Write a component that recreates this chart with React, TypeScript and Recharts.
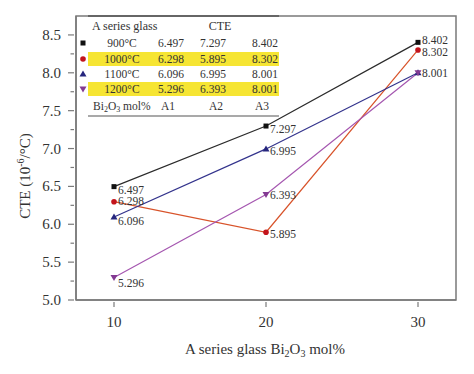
import { LineChart, Line, XAxis, YAxis, ReferenceArea, LabelList } from 'recharts';

const bi2o3 = [10, 20, 30];
const samples = ['A1', 'A2', 'A3'];
const temps = ['900°C', '1000°C', '1100°C', '1200°C'];
const cte900 = [6.497, 7.297, 8.402];
const cte1000 = [6.298, 5.895, 8.302];
const cte1100 = [6.096, 6.995, 8.001];
const cte1200 = [5.296, 6.393, 8.001];
const yTicks = [5, 5.25, 5.5, 5.75, 6, 6.25, 6.5, 6.75, 7, 7.25, 7.5, 7.75, 8, 8.25, 8.5];
const xTicks = [10, 20, 30];

const data = bi2o3.map((x, i) => ({
    x,
    t900: cte900[i],
    t1000: cte1000[i],
    t1100: cte1100[i],
    t1200: cte1200[i],
}));

const FONT = '"Liberation Serif", "DejaVu Serif", serif';
const AXIS = '#7a7a7a';

const series = [
    { key: 't900', values: cte900, line: '#2b2b2b', mark: '#111', shape: 'square', dy: [3, 3, -2] },
    { key: 't1000', values: cte1000, line: '#d8532a', mark: '#c3141c', shape: 'circle', dy: [-1, 2, 2] },
    { key: 't1100', values: cte1100, line: '#33338c', mark: '#26267e', shape: 'up', dy: [4, 2, 0] },
    { key: 't1200', values: cte1200, line: '#a557b0', mark: '#833a92', shape: 'down', dy: [5, 0, null] },
];

function Marker({ cx, cy, shape, color }: any) {
    if (cx == null || cy == null) return null;
    if (shape === 'square') return <rect x={cx - 2.5} y={cy - 2.5} width={5} height={5} fill={color} />;
    if (shape === 'circle') return <circle cx={cx} cy={cy} r={2.8} fill={color} />;
    if (shape === 'up') return <polygon points={`${cx},${cy - 3.5} ${cx - 3.5},${cy + 2.5} ${cx + 3.5},${cy + 2.5}`} fill={color} />;
    return <polygon points={`${cx},${cy + 3.5} ${cx - 3.5},${cy - 2.5} ${cx + 3.5},${cy - 2.5}`} fill={color} />;
}

function YTick({ x, y, payload }: any) {
    const major = Math.abs(payload.value * 2 - Math.round(payload.value * 2)) < 1e-6;
    return (
        <g>
            <line x1={x + 6 - (major ? 6 : 3.5)} x2={x + 6} y1={y} y2={y} stroke={AXIS} strokeWidth={1.2} />
            {major && (
                <text x={x - 7} y={y} textAnchor="end" dominantBaseline="central" fontSize={15} fill="#333" fontFamily={FONT}>
                    {payload.value.toFixed(1)}
                </text>
            )}
        </g>
    );
}

function XTick({ x, y, payload }: any) {
    return (
        <g>
            <line x1={x} x2={x} y1={y - 6} y2={y - 1} stroke={AXIS} strokeWidth={1.2} />
            <text x={x} y={y + 14} textAnchor="middle" dominantBaseline="central" fontSize={15} fill="#333" fontFamily={FONT}>
                {payload.value}
            </text>
        </g>
    );
}

function makeLabel(dys: (number | null)[]) {
    return (props: any) => {
        const { x, y, value, index } = props;
        const dy = dys[index];
        if (dy == null) return null;
        return (
            <text x={x + 4} y={y + dy} dominantBaseline="central" fontSize={11.5} fill="#333" fontFamily={FONT}>
                {Number(value).toFixed(3)}
            </text>
        );
    };
}

const rowY = [43, 59, 74, 89];
const colX = [171, 213, 265];

function Overlay() {
    return (
        <svg width={474} height={374} style={{ position: 'absolute', left: 0, top: 0, pointerEvents: 'none' }} fontFamily={FONT}>
            {/* table */}
            <rect x={88} y={rowY[1] - 7} width={191} height={14} fill="#f6e533" />
            <rect x={88} y={rowY[3] - 7} width={191} height={14} fill="#f6e533" />
            <line x1={88} x2={279} y1={16} y2={16} stroke="#555" strokeWidth={1.5} />
            <line x1={88} x2={279} y1={116} y2={116} stroke="#555" strokeWidth={1.2} />
            <text x={92} y={26} dominantBaseline="central" fontSize={12} fill="#333">A series glass</text>
            <text x={220} y={26} textAnchor="middle" dominantBaseline="central" fontSize={12} fill="#333">CTE</text>
            {series.map((s, r) => (
                <g key={s.key}>
                    <Marker cx={83} cy={rowY[r]} shape={s.shape} color={s.mark} />
                    <text x={122} y={rowY[r]} textAnchor="middle" dominantBaseline="central" fontSize={11.5} fill="#333">{temps[r]}</text>
                    {s.values.map((v, c) => (
                        <text key={c} x={colX[c]} y={rowY[r]} textAnchor="middle" dominantBaseline="central" fontSize={11.5} fill="#333">
                            {v.toFixed(3)}
                        </text>
                    ))}
                </g>
            ))}
            <text x={93} y={106} dominantBaseline="central" fontSize={11.5} fill="#333">
                Bi<tspan fontSize={8} dy={3}>2</tspan><tspan dy={-3}>O</tspan><tspan fontSize={8} dy={3}>3</tspan><tspan dy={-3}> mol%</tspan>
            </text>
            {samples.map((a, c) => (
                <text key={a} x={[168, 216, 262][c]} y={106} textAnchor="middle" dominantBaseline="central" fontSize={11.5} fill="#333">{a}</text>
            ))}
            {/* axis titles */}
            <text x={265} y={349} textAnchor="middle" dominantBaseline="central" fontSize={15} fill="#333">
                A series glass Bi<tspan fontSize={10} dy={4}>2</tspan><tspan dy={-4}>O</tspan><tspan fontSize={10} dy={4}>3</tspan><tspan dy={-4}> mol%</tspan>
            </text>
            <text transform="translate(25,176) rotate(-90)" textAnchor="middle" dominantBaseline="central" fontSize={15} fill="#333">
                CTE (10<tspan fontSize={10} dy={-5}>-6</tspan><tspan dy={5}>/°C)</tspan>
            </text>
        </svg>
    );
}

export default function App() {
    return (
        <div style={{ position: 'absolute', left: 0, top: 0, width: 474, height: 374, background: '#fff' }}>
            <LineChart width={474} height={374} data={data} margin={{ top: 16, right: 18, bottom: 0, left: 0 }}>
                <XAxis
                    dataKey="x"
                    type="number"
                    domain={[7.5, 32.5]}
                    ticks={xTicks}
                    height={74}
                    tickLine={false}
                    tick={<XTick />}
                    axisLine={{ stroke: AXIS, strokeWidth: 1.5 }}
                />
                <YAxis
                    type="number"
                    domain={[5, 8.75]}
                    ticks={yTicks}
                    width={76}
                    tickLine={false}
                    tick={<YTick />}
                    interval={0}
                    axisLine={{ stroke: AXIS, strokeWidth: 1.5 }}
                />
                <ReferenceArea x1={7.5} x2={32.5} y1={5} y2={8.75} fill="none" stroke={AXIS} strokeWidth={1.5} ifOverflow="visible" />
                {series.map((s) => (
                    <Line
                        key={s.key}
                        dataKey={s.key}
                        stroke={s.line}
                        strokeWidth={1.2}
                        isAnimationActive={false}
                        dot={(p: any) => <Marker key={`${s.key}-${p.index}`} cx={p.cx} cy={p.cy} shape={s.shape} color={s.mark} />}
                        activeDot={false}
                    >
                        <LabelList dataKey={s.key} content={makeLabel(s.dy)} />
                    </Line>
                ))}
            </LineChart>
            <Overlay />
        </div>
    );
}
